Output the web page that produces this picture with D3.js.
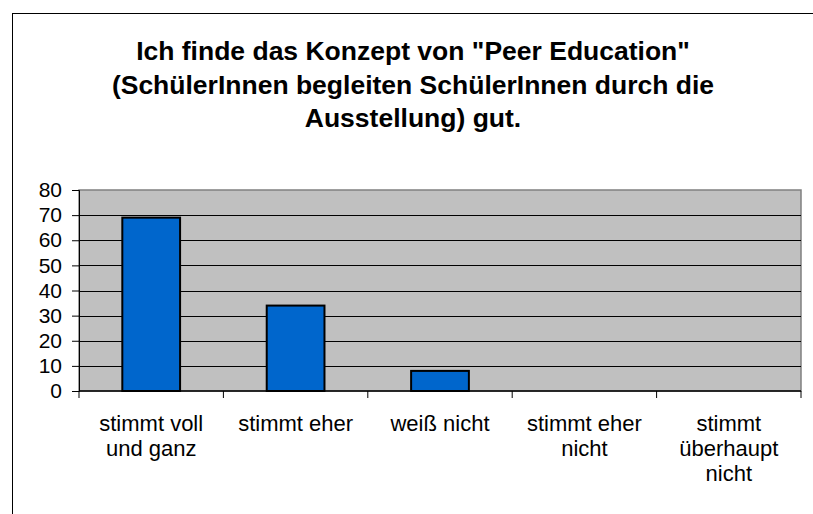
<!DOCTYPE html>
<html>
<head>
<meta charset="utf-8">
<script src="https://cdn.jsdelivr.net/npm/d3@7"></script>
<style>
  body { margin: 0; background: #fff; }
  svg { display: block; font-family: Arial, "Liberation Sans", sans-serif; }
</style>
</head>
<body>
<svg id="chart"></svg>
<script>
const titleLines = ['Ich finde das Konzept von "Peer Education"', "(SchülerInnen begleiten SchülerInnen durch die", "Ausstellung) gut."];
const categories = [["stimmt voll", "und ganz"], ["stimmt eher"], ["weiß nicht"], ["stimmt eher", "nicht"], ["stimmt", "überhaupt", "nicht"]];
const values = [69, 34, 8, 0, 0];
const yTicks = [0, 10, 20, 30, 40, 50, 60, 70, 80];

const width = 813;
const height = 514;
const marginTop = 190;
const marginRight = 12;
const marginBottom = 123;
const marginLeft = 79;
const font = "Arial, 'Liberation Sans', sans-serif";

const svg = d3.select("#chart")
    .attr("width", width)
    .attr("height", height);

// outer chart frame (runs off the right and bottom edge)
svg.append("rect")
    .attr("x", 12.5).attr("y", 13.5)
    .attr("width", 820).attr("height", 520)
    .attr("fill", "#fff")
    .attr("stroke", "#000");

// title
svg.append("g")
    .selectAll("text")
    .data(titleLines)
    .join("text")
    .attr("x", 413)
    .attr("y", (d, i) => 60 + i * 33.5)
    .attr("text-anchor", "middle")
    .attr("font-size", 26.5)
    .attr("font-weight", "bold")
    .text(d => d);

const idx = categories.map((d, i) => i);
const x = d3.scaleBand()
    .domain(idx)
    .range([marginLeft, width - marginRight])
    .paddingInner(0.6)
    .paddingOuter(0.3);
const xEdge = d3.scaleLinear()
    .domain([0, categories.length])
    .range([marginLeft, width - marginRight]);

const y = d3.scaleLinear()
    .domain([0, 80])
    .range([height - marginBottom, marginTop]);

// plot area
svg.append("rect")
    .attr("x", marginLeft).attr("y", marginTop)
    .attr("width", width - marginRight - marginLeft)
    .attr("height", height - marginBottom - marginTop)
    .attr("fill", "#c0c0c0")
    .attr("stroke", "#808080")
    .attr("stroke-width", 1.5);

// gridlines
svg.append("g")
    .selectAll("line")
    .data(yTicks.filter(d => d > 0 && d < 80))
    .join("line")
    .attr("x1", marginLeft).attr("x2", width - marginRight)
    .attr("y1", d => Math.round(y(d)) + 0.5).attr("y2", d => Math.round(y(d)) + 0.5)
    .attr("stroke", "#000");

// bars
svg.append("g")
    .selectAll("rect")
    .data(values)
    .join("rect")
    .attr("x", (d, i) => x(i))
    .attr("y", d => y(d))
    .attr("width", x.bandwidth())
    .attr("height", d => y(0) - y(d))
    .attr("fill", "#0066cc")
    .attr("stroke", "#000")
    .attr("stroke-width", 2)
    .attr("display", d => d > 0 ? null : "none");

// y axis
const yAxis = svg.append("g")
    .attr("transform", `translate(${marginLeft},0)`)
    .call(d3.axisLeft(y).tickValues(yTicks).tickSize(7).tickPadding(10));
yAxis.selectAll("text").attr("font-size", 21).attr("fill", "#000").attr("font-family", font);
yAxis.select(".domain").attr("stroke", "#000");

// x axis with ticks at category edges
const xAxisG = svg.append("g")
    .attr("transform", `translate(0,${height - marginBottom})`);
xAxisG.append("line")
    .attr("x1", marginLeft).attr("x2", width - marginRight)
    .attr("stroke", "#000").attr("stroke-width", 1.5);
xAxisG.selectAll(".tick")
    .data(d3.range(categories.length + 1))
    .join("line")
    .attr("x1", d => xEdge(d)).attr("x2", d => xEdge(d))
    .attr("y1", 0).attr("y2", 7)
    .attr("stroke", "#000");

const labels = svg.append("g")
    .selectAll("text")
    .data(categories)
    .join("text")
    .attr("text-anchor", "middle")
    .attr("font-size", 22)
    .attr("x", (d, i) => x(i) + x.bandwidth() / 2);
labels.selectAll("tspan")
    .data(d => d)
    .join("tspan")
    .attr("x", function () { return this.parentNode.getAttribute("x"); })
    .attr("y", (d, i) => height - marginBottom + 40 + i * 25)
    .text(d => d);
</script>
</body>
</html>
